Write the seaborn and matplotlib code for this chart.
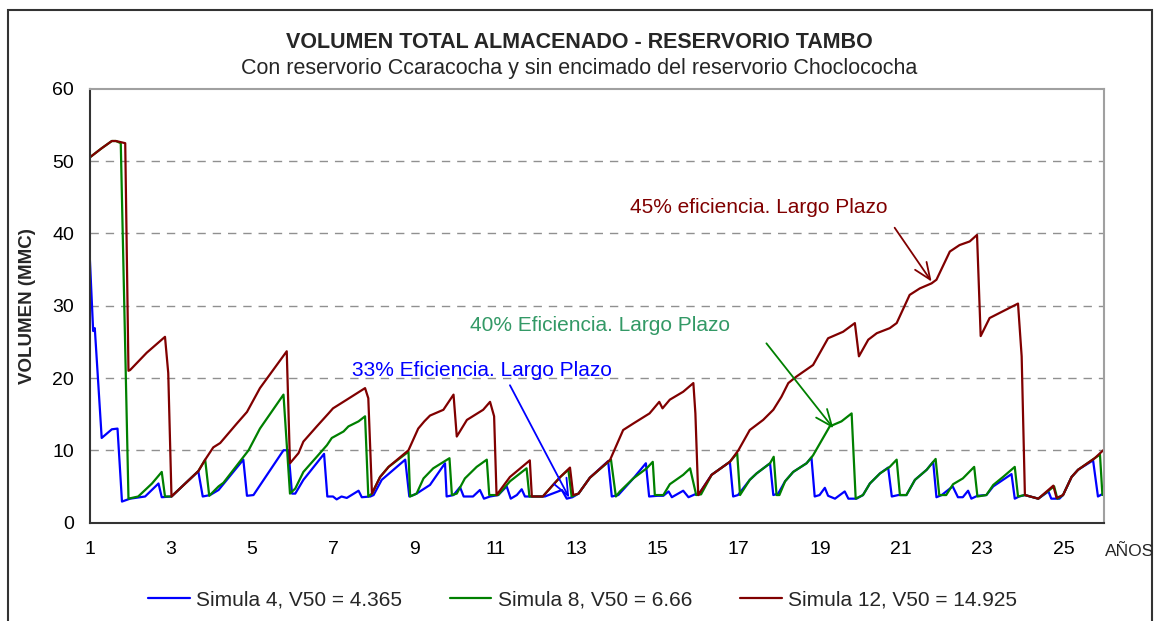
import matplotlib
matplotlib.use("Agg")
from matplotlib import pyplot as plt
from matplotlib.patches import Rectangle
import matplotlib.ticker as plticker
import seaborn as sns
import pandas as pd
import numpy as np

# ---- data (x in years, volume in MMC) ----
sim4_x = [1.00, 1.09, 1.13, 1.30, 1.55, 1.69, 1.80, 2.00, 2.37, 2.70, 2.78, 3.02, 3.68, 3.79, 3.97,
          4.18, 4.79, 4.88, 5.04, 5.78, 5.90, 5.99, 6.07, 6.27, 6.78, 6.86, 7.00, 7.09, 7.21, 7.34,
          7.63, 7.71, 7.92, 8.00, 8.20, 8.78, 8.88, 8.98, 9.06, 9.39, 9.76, 9.80, 9.97, 10.13, 10.22,
          10.45, 10.62, 10.72, 10.87, 11.07, 11.28, 11.38, 11.53, 11.65, 11.73, 12.22, 12.64, 12.76,
          12.90, 13.05, 13.33, 13.78, 13.87, 14.03, 14.40, 14.71, 14.79, 15.00, 15.14, 15.27, 15.35,
          15.63, 15.76, 15.92, 16.00, 16.33, 16.78, 16.86, 16.98, 17.27, 17.44, 17.77, 17.85, 17.97,
          18.14, 18.34, 18.67, 18.79, 18.87, 18.99, 19.12, 19.20, 19.37, 19.61, 19.70, 19.90, 20.06,
          20.23, 20.48, 20.68, 20.77, 20.93, 21.13, 21.34, 21.63, 21.79, 21.87, 22.00, 22.27, 22.40,
          22.52, 22.65, 22.73, 22.88, 23.10, 23.27, 23.51, 23.72, 23.80, 23.91, 24.05, 24.38, 24.63,
          24.70, 24.90, 24.99, 25.20, 25.36, 25.73, 25.85, 25.98]
sim4_y = [37.5, 26.5, 26.9, 11.7, 12.9, 13.0, 2.9, 3.3, 3.6, 5.4, 3.5, 3.6, 7.1, 3.6, 3.8,
          4.5, 8.7, 3.7, 3.8, 10.0, 10.0, 4.0, 4.0, 5.9, 9.5, 3.6, 3.6, 3.2, 3.6, 3.4,
          4.4, 3.5, 3.6, 3.8, 5.9, 8.7, 3.6, 3.8, 4.0, 5.2, 8.2, 3.6, 3.8, 4.9, 3.6,
          3.6, 4.5, 3.3, 3.6, 3.8, 5.0, 3.3, 3.8, 4.6, 3.6, 3.6, 4.5, 3.3,
          3.5, 4.0, 6.2, 8.5, 3.6, 3.8, 6.1, 8.2, 3.6, 3.7, 3.7, 4.3, 3.5,
          4.4, 3.5, 3.9, 3.8, 6.6, 8.4, 3.6, 3.8, 5.9, 6.8, 8.2, 3.8, 4.0,
          5.7, 7.0, 8.2, 9.0, 3.6, 3.8, 4.8, 3.7, 3.3, 4.3, 3.3, 3.3, 3.8,
          5.4, 6.8, 7.6, 3.6, 3.8, 3.8, 5.9, 7.3, 8.4, 3.5, 3.8, 5.0, 3.5,
          3.5, 4.4, 3.3, 3.7, 3.8, 5.0, 5.9, 6.7, 3.3, 3.6, 3.8, 3.3, 4.3,
          3.3, 3.3, 3.8, 6.3, 7.3, 8.6, 3.6, 4.0]

sim8_x = [1.00, 1.30, 1.55, 1.65, 1.77, 1.96, 2.20, 2.54, 2.78, 2.86, 3.02, 3.68, 3.85, 3.95, 4.18,
          4.30, 4.92, 5.20, 5.78, 5.94, 6.07, 6.27, 6.60, 6.85, 6.97, 7.26, 7.38, 7.63, 7.79, 7.87,
          7.96, 8.16, 8.37, 8.86, 8.90, 9.06, 9.23, 9.47, 9.87, 9.93, 10.05, 10.25, 10.54, 10.79,
          10.85, 11.07, 11.36, 11.77, 11.84, 12.17, 12.39, 12.60, 12.80, 12.88, 13.05, 13.33, 13.85,
          13.97, 14.07, 14.40, 14.73, 14.88, 14.93, 15.14, 15.30, 15.63, 15.80, 15.95, 16.07, 16.33,
          16.78, 16.96, 17.03, 17.27, 17.44, 17.77, 17.86, 17.93, 18.00, 18.14, 18.34, 18.67, 18.83,
          19.24, 19.53, 19.78, 19.88, 20.06, 20.23, 20.48, 20.72, 20.89, 20.97, 21.13, 21.34, 21.63,
          21.85, 21.94, 22.11, 22.28, 22.52, 22.80, 22.88, 23.10, 23.27, 23.51, 23.80, 23.88, 24.05,
          24.38, 24.77, 24.85, 24.99, 25.20, 25.36, 25.77, 25.90, 25.96]
sim8_y = [50.5, 51.8, 52.8, 52.8, 52.5, 3.3, 3.6, 5.4, 7.0, 3.6, 3.6, 7.1, 8.7, 3.7, 5.0,
          5.5, 10.0, 13.0, 17.7, 4.0, 4.7, 7.0, 9.1, 10.7, 11.7, 12.6, 13.3, 14.0, 14.7, 3.6,
          4.0, 6.3, 7.7, 9.8, 3.6, 4.0, 6.1, 7.5, 8.9, 3.8, 4.0, 6.1, 7.7, 8.7,
          3.8, 3.8, 5.7, 7.5, 3.6, 3.6, 5.0, 6.3, 7.3, 3.6, 4.0, 6.2, 8.7,
          3.6, 4.3, 6.1, 7.5, 8.4, 3.8, 3.8, 5.3, 6.6, 7.5, 3.8, 3.9, 6.6,
          8.4, 9.6, 3.8, 5.9, 6.8, 8.2, 9.1, 3.8, 3.8, 5.7, 7.0, 8.2, 9.3,
          13.3, 14.0, 15.1, 3.3, 3.8, 5.4, 6.8, 7.7, 8.7, 3.8, 3.8, 5.9, 7.3,
          8.8, 3.8, 3.8, 5.3, 6.1, 7.7, 3.6, 3.8, 5.2, 6.3, 7.7, 3.6, 3.8,
          3.3, 5.0, 3.3, 3.8, 6.3, 7.3, 8.9, 9.4, 3.8]

sim12_x = [1.00, 1.30, 1.55, 1.65, 1.88, 1.96, 2.00, 2.41, 2.86, 2.94, 3.02, 3.68, 3.85, 4.05, 4.22,
           4.63, 4.88, 5.20, 5.86, 5.94, 6.15, 6.27, 6.60, 6.89, 7.00, 7.34, 7.79, 7.87, 7.96, 8.16,
           8.37, 8.86, 9.10, 9.25, 9.39, 9.72, 9.97, 10.05, 10.30, 10.70, 10.87, 10.97, 11.03, 11.36,
           11.85, 11.90, 12.17, 12.39, 12.60, 12.84, 12.92, 13.05, 13.33, 13.83, 14.15, 14.40, 14.80,
           15.04, 15.12, 15.30, 15.63, 15.88, 15.93, 16.00, 16.33, 16.78, 16.99, 17.27, 17.60, 17.85,
           18.05, 18.22, 18.42, 18.83, 19.20, 19.57, 19.86, 19.96, 20.19, 20.40, 20.72, 20.89, 21.21,
           21.46, 21.75, 21.87, 22.20, 22.44, 22.69, 22.87, 22.96, 23.18, 23.67, 23.88, 23.97, 24.05,
           24.38, 24.75, 24.83, 24.99, 25.20, 25.36, 25.77, 25.98]
sim12_y = [50.5, 51.8, 52.8, 52.8, 52.5, 21.0, 21.1, 23.5, 25.7, 20.7, 3.6, 7.1, 8.7, 10.4, 11.0,
           13.7, 15.3, 18.6, 23.7, 8.2, 9.6, 11.2, 13.3, 15.1, 15.8, 17.0, 18.6, 17.2, 4.0, 6.3,
           7.7, 10.0, 13.0, 14.0, 14.8, 15.6, 17.7, 11.9, 14.2, 15.6, 16.7, 14.7, 3.8, 6.3,
           8.6, 3.6, 3.6, 5.0, 6.3, 7.6, 3.8, 4.0, 6.2, 8.7, 12.8, 13.7, 15.1,
           16.7, 15.8, 17.0, 18.1, 19.3, 15.1, 3.8, 6.6, 8.4, 10.0, 12.8, 14.2, 15.6,
           17.4, 19.3, 20.2, 21.8, 25.5, 26.4, 27.6, 23.0, 25.3, 26.2, 26.9, 27.6, 31.5,
           32.4, 33.1, 33.6, 37.5, 38.4, 38.9, 39.8, 25.8, 28.3, 29.7, 30.3, 23.0, 3.8,
           3.3, 5.1, 3.4, 3.8, 6.3, 7.3, 8.9, 10.0]

series_names = ["Simula 4, V50 = 4.365", "Simula 8, V50 = 6.66", "Simula 12, V50 = 14.925"]
series_colors = ["#0000FF", "#008000", "#800000"]
xtick_years = [1, 3, 5, 7, 9, 11, 13, 15, 17, 19, 21, 23, 25]

df = pd.concat([
    pd.DataFrame({"anio": sim4_x, "vol": sim4_y, "serie": series_names[0]}),
    pd.DataFrame({"anio": sim8_x, "vol": sim8_y, "serie": series_names[1]}),
    pd.DataFrame({"anio": sim12_x, "vol": sim12_y, "serie": series_names[2]}),
], ignore_index=True)

sns.set_style("white")
plt.rcParams["font.family"] = ["Liberation Sans", "DejaVu Sans"]

fig = plt.figure(figsize=(11.58, 6.21), dpi=100)
ax = fig.add_axes([0.0773, 0.1586, 0.8761, 0.6981])

sns.lineplot(data=df, x="anio", y="vol", hue="serie", palette=series_colors,
             estimator=None, sort=False, linewidth=1.6, ax=ax)

ax.set_xlim(1, 26)
ax.set_ylim(0, 60)
ax.set_xlabel("")
ax.set_ylabel("VOLUMEN (MMC)", fontsize=13.5, fontweight="bold", labelpad=12)

ax.yaxis.set_major_locator(plticker.MultipleLocator(10))
ax.set_xticks(xtick_years)
ax.set_xticklabels([str(v) for v in xtick_years])
ax.xaxis.set_minor_locator(plticker.MultipleLocator(0.5))
ax.tick_params(axis="both", which="both", direction="out", length=5, width=1.2,
               color="#333333", labelsize=14, labelcolor="black")
ax.tick_params(axis="x", which="both", pad=8)
ax.tick_params(axis="y", pad=6)

# dashed grid at 10..50
for yv in range(10, 60, 10):
    ax.axhline(yv, color="#909090", linestyle=(0, (6, 5)), linewidth=1, zorder=0)

for side in ["left", "bottom"]:
    ax.spines[side].set_color("#333333")
    ax.spines[side].set_linewidth(1.5)
for side in ["top", "right"]:
    ax.spines[side].set_color("#a0a0a0")
    ax.spines[side].set_linewidth(1.5)

# annotations
arrow_style = "->,head_length=0.6,head_width=0.25"
ax.text(17.49, 43.6, "45% eficiencia. Largo Plazo", color="#800000", fontsize=15,
        ha="center", va="center")
ax.annotate("", xy=(21.75, 33.35), xytext=(20.84, 40.8),
            arrowprops=dict(arrowstyle=arrow_style, color="#800000", lw=1.3,
                            mutation_scale=20, shrinkA=0, shrinkB=0))
ax.text(13.59, 27.2, "40% Eficiencia. Largo Plazo", color="#339966", fontsize=15,
        ha="center", va="center")
ax.annotate("", xy=(19.33, 13.05), xytext=(17.68, 24.8),
            arrowprops=dict(arrowstyle=arrow_style, color="#008000", lw=1.3,
                            mutation_scale=20, shrinkA=0, shrinkB=0))
ax.text(10.67, 21.1, "33% Eficiencia. Largo Plazo", color="#0000FF", fontsize=15,
        ha="center", va="center")
ax.annotate("", xy=(12.82, 3.43), xytext=(11.36, 19.0),
            arrowprops=dict(arrowstyle=arrow_style, color="#0000FF", lw=1.3,
                            mutation_scale=20, shrinkA=0, shrinkB=0))

# titles
fig.text(0.5, 0.932, "VOLUMEN TOTAL ALMACENADO - RESERVORIO TAMBO", ha="center", va="center",
         fontsize=15.5, fontweight="bold")
fig.text(0.5, 0.890, "Con reservorio Ccaracocha y sin encimado del reservorio Choclococha",
         ha="center", va="center", fontsize=15.5)
fig.text(0.9755, 0.112, "AÑOS", ha="center", va="center", fontsize=12.5)

# legend below the plot
handles, labels = ax.get_legend_handles_labels()
ax.get_legend().remove()
fig.legend(handles, labels, loc="center", bbox_to_anchor=(0.503, 0.034), ncol=3, frameon=False,
           fontsize=15, handlelength=2.0, handletextpad=0.3, columnspacing=2.3)

# outer chart frame
fig.add_artist(Rectangle((0.007, -0.05), 0.988, 1.034, transform=fig.transFigure,
                         fill=False, edgecolor="#333333", linewidth=1.5))

fig.savefig("out.png", dpi=100)
